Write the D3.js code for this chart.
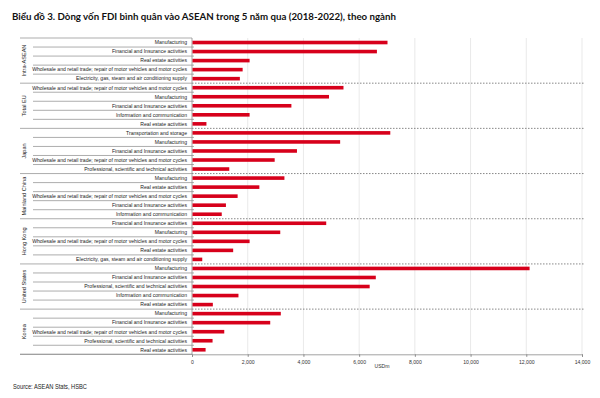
<!DOCTYPE html>
<html><head><meta charset="utf-8">
<script src="https://cdn.jsdelivr.net/npm/d3@7"></script>
<style>body{margin:0;background:#fff}svg{display:block}</style>
</head><body>
<svg id="c" width="600" height="398"></svg>
<script>
const title = "Biểu đồ 3. Dòng vốn FDI bình quân vào ASEAN trong 5 năm qua (2018-2022), theo ngành";
const source = "Source: ASEAN Stats, HSBC";
const unit = "USDm";
const groups = ["Intra-ASEAN","Total EU","Japan","Mainland China","Hong Kong","United States","Korea"];
const W = "Wholesale and retail trade; repair of motor vehicles and motor cycles";
const sectors = [
  ["Manufacturing","Financial and Insurance activities","Real estate activities",W,"Electricity, gas, steam and air conditioning supply"],
  [W,"Manufacturing","Financial and Insurance activities","Information and communication","Real estate activities"],
  ["Transportation and storage","Manufacturing","Financial and Insurance activities",W,"Professional, scientific and technical activities"],
  ["Manufacturing","Real estate activities",W,"Financial and Insurance activities","Information and communication"],
  ["Financial and Insurance activities","Manufacturing",W,"Real estate activities","Electricity, gas, steam and air conditioning supply"],
  ["Manufacturing","Financial and Insurance activities","Professional, scientific and technical activities","Information and communication","Real estate activities"],
  ["Manufacturing","Financial and Insurance activities",W,"Professional, scientific and technical activities","Real estate activities"]
];
const values = [
  [7000,6620,2050,1800,1700],
  [5420,4900,3550,2050,500],
  [7100,5300,3750,2950,1320],
  [3300,2400,1620,1200,1050],
  [4800,3150,2050,1460,350],
  [12100,6580,6360,1650,730],
  [3170,2790,1140,720,470]
];
const xTicks = [0,2000,4000,6000,8000,10000,12000,14000];

const rows = [];
groups.forEach((g,gi)=>sectors[gi].forEach((s,si)=>rows.push({g,gi,si,s,v:values[gi][si],id:gi+"_"+si})));

const svg = d3.select("#c");
const x0 = 192, x1 = 582, yTop = 38, yBot = 354.3;
const x = d3.scaleLinear().domain([0,14000]).range([x0,x1]);
const y = d3.scaleBand().domain(rows.map(r=>r.id)).range([yTop,yBot]).paddingInner(0.6).paddingOuter(0.3);
const step = y.step();
const F = "'Liberation Sans', Arial, sans-serif";

// title
svg.append("text").attr("x",12).attr("y",20).attr("font-family","Lato, 'Open Sans', sans-serif")
  .attr("font-weight","bold").attr("font-size",10).attr("fill","#111")
  .attr("textLength",384).attr("lengthAdjust","spacingAndGlyphs").text(title);

// gridlines
svg.append("g").selectAll("line").data(xTicks.slice(1)).join("line")
  .attr("x1",d=>x(d)).attr("x2",d=>x(d)).attr("y1",yTop).attr("y2",yBot)
  .attr("stroke","#e3e3e3").attr("stroke-width",0.8);

// row separators in label area
const rowStart = i => yTop + i*step; // boundary positions (approx)
const bounds = d3.range(rows.length+1);
const gStarts = [];
{let c=0; sectors.forEach(s=>{gStarts.push(c); c+=s.length;}); gStarts.push(c);}
const bandTop = id => y(id) - step*y.paddingInner()/2 - (step - y.bandwidth() - step*y.paddingInner())/2;
const boundaryY = i => {
  const total = yBot - yTop;
  return yTop + i * total/rows.length;
};
svg.append("g").selectAll("line").data(bounds).join("line")
  .attr("x1",i=>gStarts.includes(i)?20:33).attr("x2",i=>gStarts.includes(i)?192:194)
  .attr("y1",i=>boundaryY(i)).attr("y2",i=>boundaryY(i))
  .attr("stroke","#8a8a8a").attr("stroke-width",0.7);

// dashed group separators in plot
svg.append("g").selectAll("line").data(gStarts.slice(1,-1)).join("line")
  .attr("x1",x0).attr("x2",x1+2).attr("y1",i=>boundaryY(i)).attr("y2",i=>boundaryY(i))
  .attr("stroke","#555").attr("stroke-width",0.7).attr("stroke-dasharray","1.5,1.5");

// y axis line
svg.append("line").attr("x1",x0).attr("x2",x0).attr("y1",yTop).attr("y2",yBot)
  .attr("stroke","#8a8a8a").attr("stroke-width",0.8);

// bars: center bars in each row boundary slot
const rowCenter = i => boundaryY(i) + (boundaryY(i+1)-boundaryY(i))/2;
const barH = 3.6;
svg.append("g").selectAll("rect").data(rows).join("rect")
  .attr("x",x0+0.5).attr("y",(d,i)=>rowCenter(i)-barH/2)
  .attr("width",d=>x(d.v)-x0).attr("height",barH)
  .attr("fill","#d7001b");

// sector labels
svg.append("g").selectAll("text").data(rows).join("text")
  .attr("x",187).attr("y",(d,i)=>rowCenter(i)+1.8).attr("text-anchor","end")
  .attr("font-family",F).attr("font-size",5.1).attr("fill","#222").text(d=>d.s);

// group labels
svg.append("g").selectAll("text").data(groups).join("text")
  .attr("transform",(g,gi)=>`translate(25.5,${(boundaryY(gStarts[gi])+boundaryY(gStarts[gi+1]))/2}) rotate(-90)`)
  .attr("text-anchor","middle").attr("font-family",F).attr("font-size",5.6).attr("fill","#222").text(d=>d);

// x axis
const xa = svg.append("g").attr("transform",`translate(0,${yBot})`)
  .call(d3.axisBottom(x).tickValues(xTicks).tickFormat(d3.format(",")).tickSize(2.5).tickPadding(4));
xa.select(".domain").attr("stroke","#8a8a8a").attr("stroke-width",0.8);
xa.selectAll(".tick line").attr("stroke","#8a8a8a");
xa.selectAll("text").attr("font-family",F).attr("font-size",5.1).attr("fill","#333");
svg.append("line").attr("x1",20).attr("x2",x0).attr("y1",yBot).attr("y2",yBot).attr("stroke","#8a8a8a").attr("stroke-width",0.7);

svg.append("text").attr("x",382).attr("y",368).attr("text-anchor","middle")
  .attr("font-family",F).attr("font-size",5.1).attr("fill","#333").text(unit);

svg.append("text").attr("x",13).attr("y",389).attr("font-family",F).attr("font-size",6.5).attr("fill","#222")
  .attr("textLength",74).attr("lengthAdjust","spacingAndGlyphs").text(source);
</script>
</body></html>
